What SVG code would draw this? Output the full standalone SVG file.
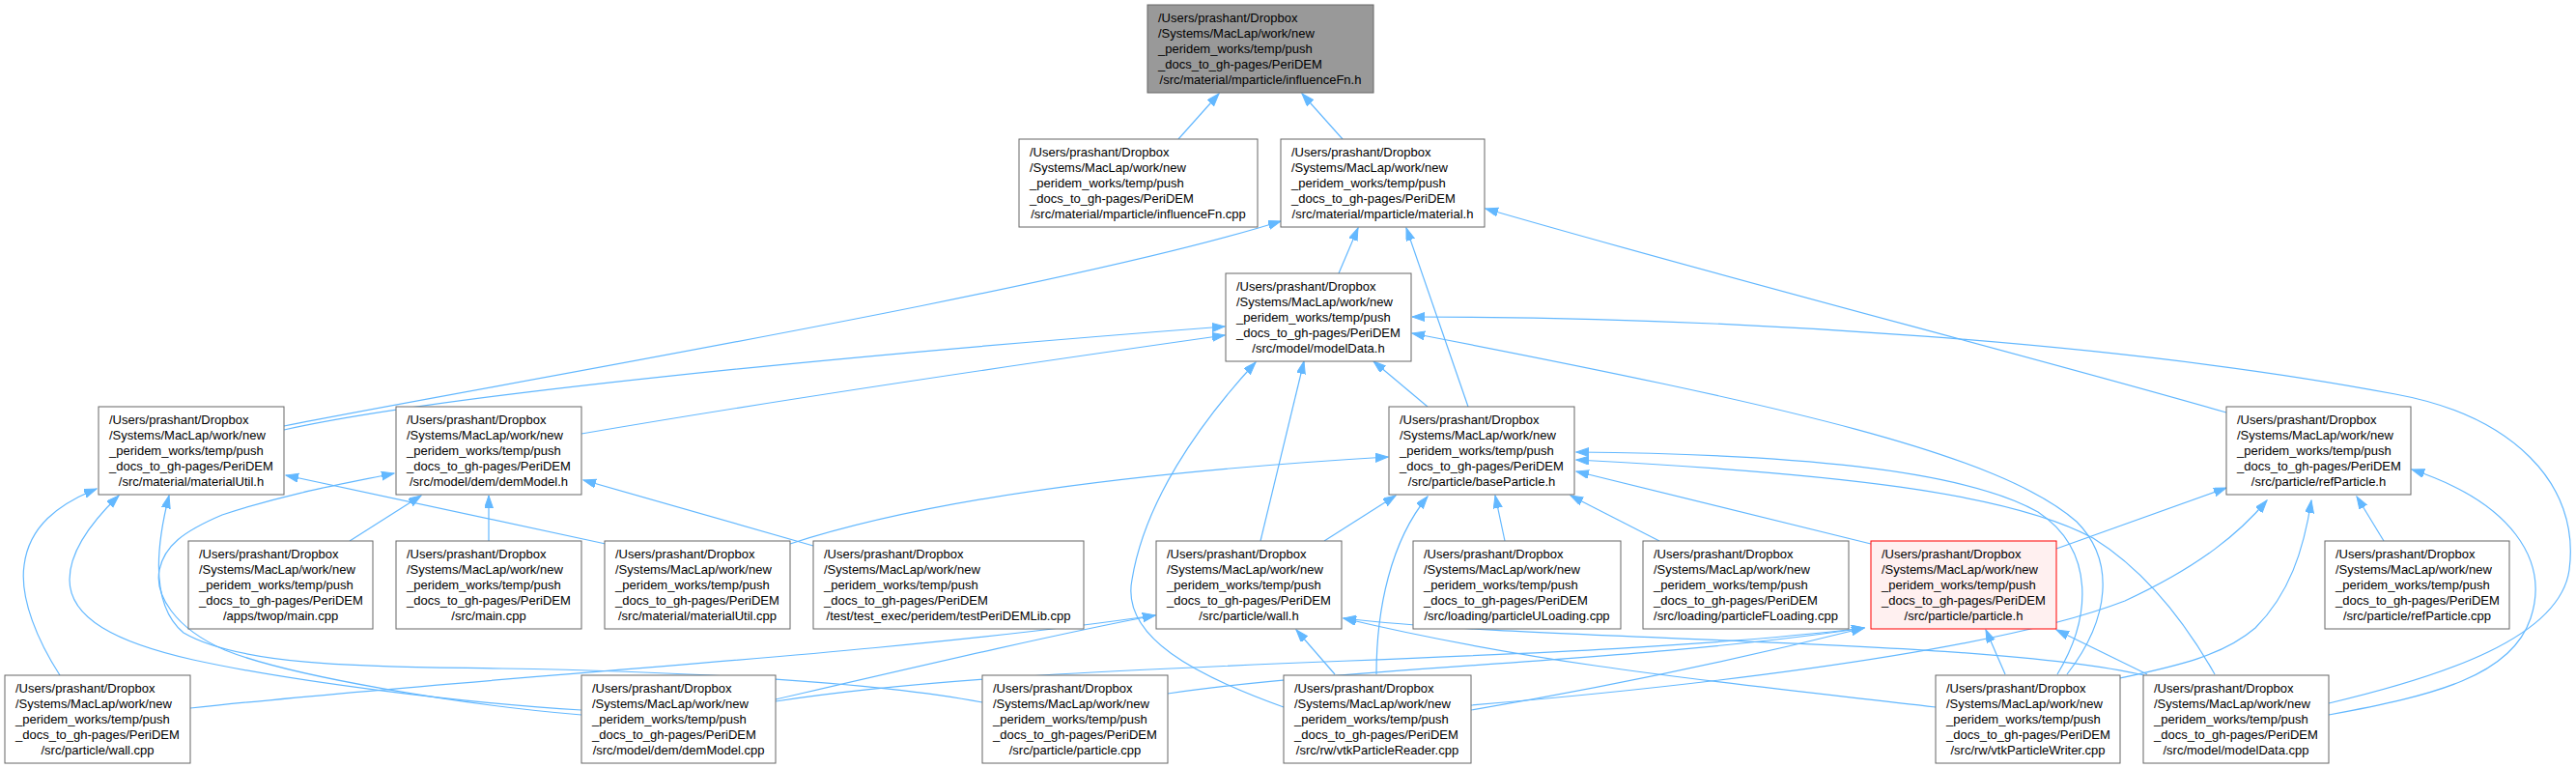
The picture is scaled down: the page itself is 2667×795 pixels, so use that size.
<svg xmlns="http://www.w3.org/2000/svg" width="2667" height="795" viewBox="0 0 2667 795">
<defs>
<marker id="ah" markerUnits="userSpaceOnUse" markerWidth="14" markerHeight="10" refX="13" refY="4.5" orient="auto">
<path d="M0,0 L13,4.5 L0,9 z" fill="#63b8ff" stroke="#63b8ff" stroke-width="1"/>
</marker>
<style>
.n rect{fill:#ffffff;stroke:#666666;stroke-width:1}
#n0 rect{fill:#999999}
#n15 rect{fill:#fff0f0;stroke:#ff0000}
text{font-family:"Liberation Sans",Arial,Helvetica,sans-serif;font-size:13px;fill:#000000}
.e path{fill:none;stroke:#63b8ff;stroke-width:1.2;marker-end:url(#ah)}
</style>
</defs>
<rect x="0" y="0" width="2667" height="795" fill="#ffffff"/>
<g id="edges" class="e">
<path d="M1220,144 L1262,97"/>
<path d="M1390,144 L1348,97"/>
<path d="M294,441 C500,400 1100,300 1326,229"/>
<path d="M1386,283 L1406,236"/>
<path d="M1520,421 L1456,236"/>
<path d="M2305,427 C2100,368 1800,292 1538,216"/>
<path d="M294,445 C450,410 850,370 1268,338"/>
<path d="M602,449 C800,415 1000,385 1268,347"/>
<path d="M1478,421 L1422,374"/>
<path d="M1305,560 L1350,374"/>
<path d="M1329,732 C1240,700 1160,660 1172,600 C1185,520 1240,440 1300,375"/>
<path d="M2140,698 C2185,640 2190,580 2150,540 C2070,470 1850,420 1462,345"/>
<path d="M2411,728 C2530,700 2650,660 2660,590 C2672,500 2600,430 2480,408 C2200,355 1800,328 1462,328"/>
<path d="M62,699 C40,665 20,620 25,585 C30,545 60,522 100,506"/>
<path d="M602,735 C480,728 300,705 200,683 C120,665 72,640 72,600 C72,570 95,540 123,513"/>
<path d="M1017,727 C900,705 700,695 520,692 C380,690 250,690 190,655 C160,630 158,580 175,513"/>
<path d="M602,740 C480,730 300,700 233,673 C180,650 160,615 165,590 C170,565 190,550 230,533 C300,510 360,500 408,490"/>
<path d="M197,733 C500,700 900,680 1196,637"/>
<path d="M803,724 C950,690 1100,655 1196,637"/>
<path d="M803,726 C1100,680 1600,690 1930,650"/>
<path d="M1209,718 C1400,690 1700,685 1930,650"/>
<path d="M1523,735 C1700,705 1850,670 1930,650"/>
<path d="M2004,732 C1800,708 1600,690 1391,640"/>
<path d="M2220,699 C2050,660 1600,665 1391,640"/>
<path d="M1523,730 C1700,715 2050,680 2200,622 C2280,585 2320,550 2347,518"/>
<path d="M1937,563 L1632,488"/>
<path d="M2129,568 L2305,505"/>
<path d="M2076,698 L2056,652"/>
<path d="M2223,698 L2129,652"/>
<path d="M2130,698 C2165,640 2170,570 2110,530 C2030,485 1850,470 1632,468"/>
<path d="M2293,698 C2260,640 2220,590 2167,557 C2080,510 1900,490 1632,476"/>
<path d="M2411,740 C2520,720 2600,700 2620,640 C2640,580 2600,520 2497,486"/>
<path d="M2195,702 C2250,690 2300,680 2335,650 C2370,615 2385,570 2393,518"/>
<path d="M2468,560 L2440,514"/>
<path d="M627,563 L296,492"/>
<path d="M818,563 C950,520 1150,490 1437,473"/>
<path d="M842,565 L604,497"/>
<path d="M362,560 L436,513"/>
<path d="M506,560 L506,513"/>
<path d="M1371,560 L1445,513"/>
<path d="M1425,698 C1425,630 1440,560 1478,514"/>
<path d="M1382,698 L1342,652"/>
<path d="M1558,560 L1548,513"/>
<path d="M1718,560 L1626,513"/>
</g>
<g id="n0" class="n"><rect x="1188" y="5" width="234" height="91"/><text><tspan x="1199" y="23">/Users/prashant/Dropbox</tspan><tspan x="1199" y="39">/Systems/MacLap/work/new</tspan><tspan x="1199" y="55">_peridem_works/temp/push</tspan><tspan x="1199" y="71">_docs_to_gh-pages/PeriDEM</tspan><tspan x="1305" y="87" text-anchor="middle">/src/material/mparticle/influenceFn.h</tspan></text></g>
<g id="n1" class="n"><rect x="1055" y="144" width="247" height="91"/><text><tspan x="1066" y="162">/Users/prashant/Dropbox</tspan><tspan x="1066" y="178">/Systems/MacLap/work/new</tspan><tspan x="1066" y="194">_peridem_works/temp/push</tspan><tspan x="1066" y="210">_docs_to_gh-pages/PeriDEM</tspan><tspan x="1178.5" y="226" text-anchor="middle">/src/material/mparticle/influenceFn.cpp</tspan></text></g>
<g id="n2" class="n"><rect x="1326" y="144" width="211" height="91"/><text><tspan x="1337" y="162">/Users/prashant/Dropbox</tspan><tspan x="1337" y="178">/Systems/MacLap/work/new</tspan><tspan x="1337" y="194">_peridem_works/temp/push</tspan><tspan x="1337" y="210">_docs_to_gh-pages/PeriDEM</tspan><tspan x="1431.5" y="226" text-anchor="middle">/src/material/mparticle/material.h</tspan></text></g>
<g id="n3" class="n"><rect x="1269" y="283" width="192" height="91"/><text><tspan x="1280" y="301">/Users/prashant/Dropbox</tspan><tspan x="1280" y="317">/Systems/MacLap/work/new</tspan><tspan x="1280" y="333">_peridem_works/temp/push</tspan><tspan x="1280" y="349">_docs_to_gh-pages/PeriDEM</tspan><tspan x="1365" y="365" text-anchor="middle">/src/model/modelData.h</tspan></text></g>
<g id="n4" class="n"><rect x="102" y="421" width="192" height="91"/><text><tspan x="113" y="439">/Users/prashant/Dropbox</tspan><tspan x="113" y="455">/Systems/MacLap/work/new</tspan><tspan x="113" y="471">_peridem_works/temp/push</tspan><tspan x="113" y="487">_docs_to_gh-pages/PeriDEM</tspan><tspan x="198" y="503" text-anchor="middle">/src/material/materialUtil.h</tspan></text></g>
<g id="n5" class="n"><rect x="410" y="421" width="192" height="91"/><text><tspan x="421" y="439">/Users/prashant/Dropbox</tspan><tspan x="421" y="455">/Systems/MacLap/work/new</tspan><tspan x="421" y="471">_peridem_works/temp/push</tspan><tspan x="421" y="487">_docs_to_gh-pages/PeriDEM</tspan><tspan x="506" y="503" text-anchor="middle">/src/model/dem/demModel.h</tspan></text></g>
<g id="n6" class="n"><rect x="1438" y="421" width="192" height="91"/><text><tspan x="1449" y="439">/Users/prashant/Dropbox</tspan><tspan x="1449" y="455">/Systems/MacLap/work/new</tspan><tspan x="1449" y="471">_peridem_works/temp/push</tspan><tspan x="1449" y="487">_docs_to_gh-pages/PeriDEM</tspan><tspan x="1534" y="503" text-anchor="middle">/src/particle/baseParticle.h</tspan></text></g>
<g id="n7" class="n"><rect x="2305" y="421" width="191" height="91"/><text><tspan x="2316" y="439">/Users/prashant/Dropbox</tspan><tspan x="2316" y="455">/Systems/MacLap/work/new</tspan><tspan x="2316" y="471">_peridem_works/temp/push</tspan><tspan x="2316" y="487">_docs_to_gh-pages/PeriDEM</tspan><tspan x="2400.5" y="503" text-anchor="middle">/src/particle/refParticle.h</tspan></text></g>
<g id="n8" class="n"><rect x="195" y="560" width="191" height="91"/><text><tspan x="206" y="578">/Users/prashant/Dropbox</tspan><tspan x="206" y="594">/Systems/MacLap/work/new</tspan><tspan x="206" y="610">_peridem_works/temp/push</tspan><tspan x="206" y="626">_docs_to_gh-pages/PeriDEM</tspan><tspan x="290.5" y="642" text-anchor="middle">/apps/twop/main.cpp</tspan></text></g>
<g id="n9" class="n"><rect x="410" y="560" width="192" height="91"/><text><tspan x="421" y="578">/Users/prashant/Dropbox</tspan><tspan x="421" y="594">/Systems/MacLap/work/new</tspan><tspan x="421" y="610">_peridem_works/temp/push</tspan><tspan x="421" y="626">_docs_to_gh-pages/PeriDEM</tspan><tspan x="506" y="642" text-anchor="middle">/src/main.cpp</tspan></text></g>
<g id="n10" class="n"><rect x="626" y="560" width="192" height="91"/><text><tspan x="637" y="578">/Users/prashant/Dropbox</tspan><tspan x="637" y="594">/Systems/MacLap/work/new</tspan><tspan x="637" y="610">_peridem_works/temp/push</tspan><tspan x="637" y="626">_docs_to_gh-pages/PeriDEM</tspan><tspan x="722" y="642" text-anchor="middle">/src/material/materialUtil.cpp</tspan></text></g>
<g id="n11" class="n"><rect x="842" y="560" width="280" height="91"/><text><tspan x="853" y="578">/Users/prashant/Dropbox</tspan><tspan x="853" y="594">/Systems/MacLap/work/new</tspan><tspan x="853" y="610">_peridem_works/temp/push</tspan><tspan x="853" y="626">_docs_to_gh-pages/PeriDEM</tspan><tspan x="982" y="642" text-anchor="middle">/test/test_exec/peridem/testPeriDEMLib.cpp</tspan></text></g>
<g id="n12" class="n"><rect x="1197" y="560" width="192" height="91"/><text><tspan x="1208" y="578">/Users/prashant/Dropbox</tspan><tspan x="1208" y="594">/Systems/MacLap/work/new</tspan><tspan x="1208" y="610">_peridem_works/temp/push</tspan><tspan x="1208" y="626">_docs_to_gh-pages/PeriDEM</tspan><tspan x="1293" y="642" text-anchor="middle">/src/particle/wall.h</tspan></text></g>
<g id="n13" class="n"><rect x="1463" y="560" width="215" height="91"/><text><tspan x="1474" y="578">/Users/prashant/Dropbox</tspan><tspan x="1474" y="594">/Systems/MacLap/work/new</tspan><tspan x="1474" y="610">_peridem_works/temp/push</tspan><tspan x="1474" y="626">_docs_to_gh-pages/PeriDEM</tspan><tspan x="1570.5" y="642" text-anchor="middle">/src/loading/particleULoading.cpp</tspan></text></g>
<g id="n14" class="n"><rect x="1701" y="560" width="213" height="91"/><text><tspan x="1712" y="578">/Users/prashant/Dropbox</tspan><tspan x="1712" y="594">/Systems/MacLap/work/new</tspan><tspan x="1712" y="610">_peridem_works/temp/push</tspan><tspan x="1712" y="626">_docs_to_gh-pages/PeriDEM</tspan><tspan x="1807.5" y="642" text-anchor="middle">/src/loading/particleFLoading.cpp</tspan></text></g>
<g id="n15" class="n"><rect x="1937" y="560" width="192" height="91"/><text><tspan x="1948" y="578">/Users/prashant/Dropbox</tspan><tspan x="1948" y="594">/Systems/MacLap/work/new</tspan><tspan x="1948" y="610">_peridem_works/temp/push</tspan><tspan x="1948" y="626">_docs_to_gh-pages/PeriDEM</tspan><tspan x="2033" y="642" text-anchor="middle">/src/particle/particle.h</tspan></text></g>
<g id="n16" class="n"><rect x="2407" y="560" width="191" height="91"/><text><tspan x="2418" y="578">/Users/prashant/Dropbox</tspan><tspan x="2418" y="594">/Systems/MacLap/work/new</tspan><tspan x="2418" y="610">_peridem_works/temp/push</tspan><tspan x="2418" y="626">_docs_to_gh-pages/PeriDEM</tspan><tspan x="2502.5" y="642" text-anchor="middle">/src/particle/refParticle.cpp</tspan></text></g>
<g id="n17" class="n"><rect x="5" y="699" width="192" height="91"/><text><tspan x="16" y="717">/Users/prashant/Dropbox</tspan><tspan x="16" y="733">/Systems/MacLap/work/new</tspan><tspan x="16" y="749">_peridem_works/temp/push</tspan><tspan x="16" y="765">_docs_to_gh-pages/PeriDEM</tspan><tspan x="101" y="781" text-anchor="middle">/src/particle/wall.cpp</tspan></text></g>
<g id="n18" class="n"><rect x="602" y="699" width="201" height="91"/><text><tspan x="613" y="717">/Users/prashant/Dropbox</tspan><tspan x="613" y="733">/Systems/MacLap/work/new</tspan><tspan x="613" y="749">_peridem_works/temp/push</tspan><tspan x="613" y="765">_docs_to_gh-pages/PeriDEM</tspan><tspan x="702.5" y="781" text-anchor="middle">/src/model/dem/demModel.cpp</tspan></text></g>
<g id="n19" class="n"><rect x="1017" y="699" width="192" height="91"/><text><tspan x="1028" y="717">/Users/prashant/Dropbox</tspan><tspan x="1028" y="733">/Systems/MacLap/work/new</tspan><tspan x="1028" y="749">_peridem_works/temp/push</tspan><tspan x="1028" y="765">_docs_to_gh-pages/PeriDEM</tspan><tspan x="1113" y="781" text-anchor="middle">/src/particle/particle.cpp</tspan></text></g>
<g id="n20" class="n"><rect x="1329" y="699" width="194" height="91"/><text><tspan x="1340" y="717">/Users/prashant/Dropbox</tspan><tspan x="1340" y="733">/Systems/MacLap/work/new</tspan><tspan x="1340" y="749">_peridem_works/temp/push</tspan><tspan x="1340" y="765">_docs_to_gh-pages/PeriDEM</tspan><tspan x="1426" y="781" text-anchor="middle">/src/rw/vtkParticleReader.cpp</tspan></text></g>
<g id="n21" class="n"><rect x="2004" y="699" width="191" height="91"/><text><tspan x="2015" y="717">/Users/prashant/Dropbox</tspan><tspan x="2015" y="733">/Systems/MacLap/work/new</tspan><tspan x="2015" y="749">_peridem_works/temp/push</tspan><tspan x="2015" y="765">_docs_to_gh-pages/PeriDEM</tspan><tspan x="2099.5" y="781" text-anchor="middle">/src/rw/vtkParticleWriter.cpp</tspan></text></g>
<g id="n22" class="n"><rect x="2219" y="699" width="192" height="91"/><text><tspan x="2230" y="717">/Users/prashant/Dropbox</tspan><tspan x="2230" y="733">/Systems/MacLap/work/new</tspan><tspan x="2230" y="749">_peridem_works/temp/push</tspan><tspan x="2230" y="765">_docs_to_gh-pages/PeriDEM</tspan><tspan x="2315" y="781" text-anchor="middle">/src/model/modelData.cpp</tspan></text></g>
</svg>
